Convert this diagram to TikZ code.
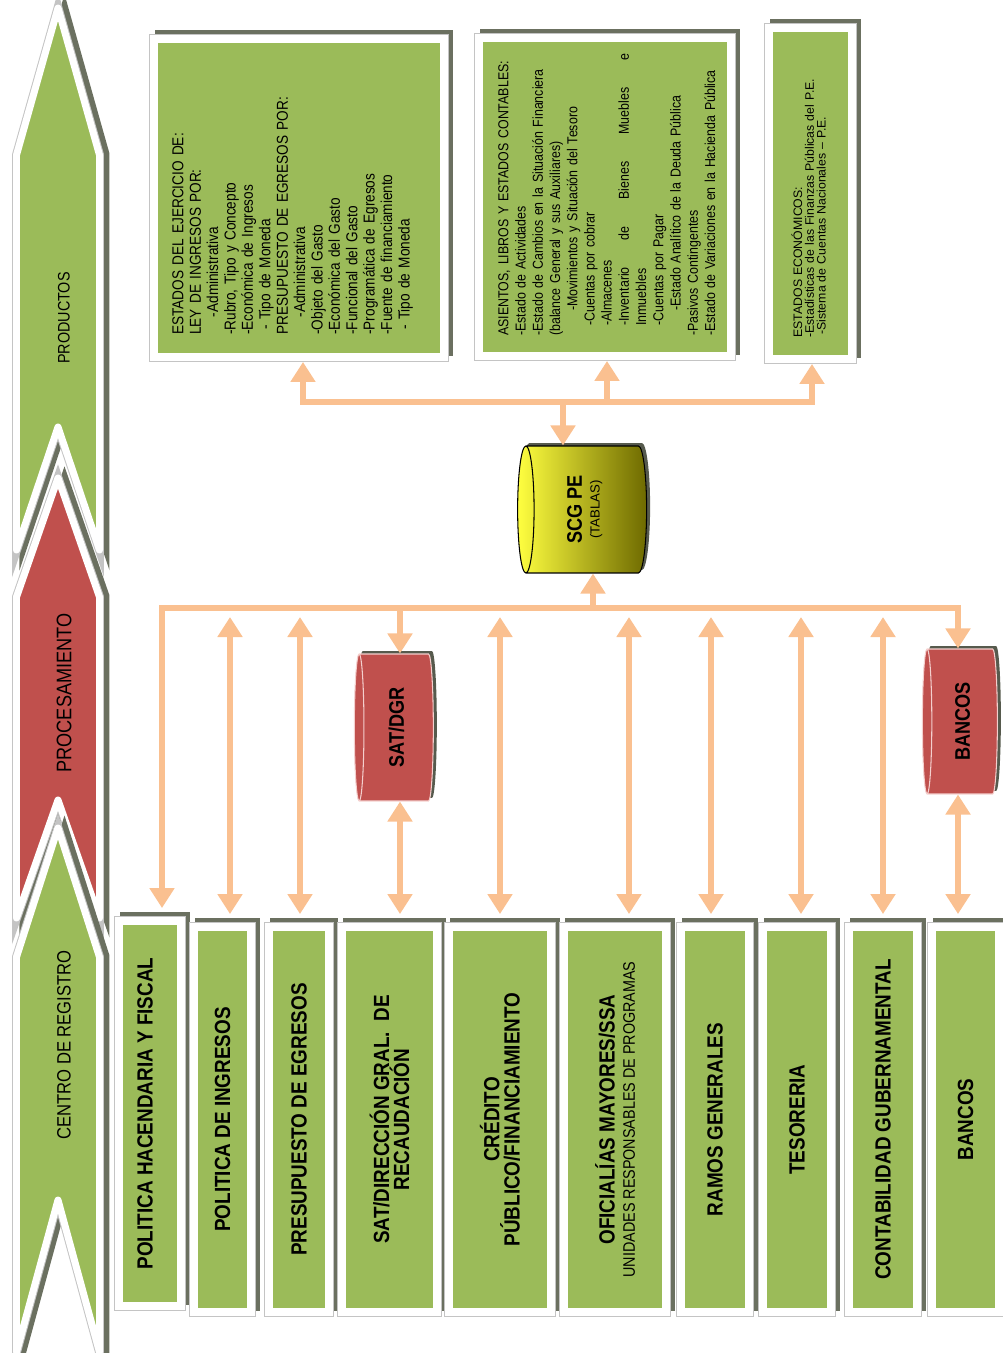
\documentclass[tikz,border=0pt]{standalone}
\usepackage{graphicx}
\usepackage{fontspec}
\setmainfont{Liberation Sans}
\newfontfamily\narrowsf[FakeStretch=0.86]{Liberation Sans}
\usepackage{tikz}
\usetikzlibrary{arrows.meta,shapes.geometric}

\definecolor{leaf}{HTML}{9BBB59}
\definecolor{brick}{HTML}{C0504D}
\definecolor{peach}{HTML}{FAC090}
\definecolor{moss}{HTML}{6B7060}
\definecolor{rim}{HTML}{C4C4C4}
\definecolor{blush}{HTML}{F4CFCD}
\definecolor{lemon}{HTML}{FFFF40}
\definecolor{olivedark}{HTML}{6E6A00}

\begin{document}
\begin{tikzpicture}[x=0.02cm, y=-0.02cm,
	>={Triangle[width=0.48cm,length=0.4cm]},
	band/.style={fill=#1, draw=white, line width=0.14cm, line join=round,
		preaction={fill=moss, draw=moss, line width=0.14cm, transform canvas={shift={(0.13cm,0.02cm)}}},
		preaction={draw=rim, line width=0.18cm}},
	bandtext/.style={rotate=90, font=\narrowsf\fontsize{#1}{#1}\selectfont},
	panel/.style={rectangle, fill=leaf, draw=white, line width=0.16cm, inner sep=0pt,
		preaction={fill=moss, draw=moss, line width=0.16cm, transform canvas={shift={(0.1cm,0.1cm)}}},
		preaction={draw=rim, line width=0.2cm}},
	cbox/.style={panel, outer sep=0.26cm, minimum height=7.7cm},
	pbox/.style={panel, outer sep=0.1cm},
	boxtext/.style={rotate=90, align=center, font=\narrowsf\bfseries\fontsize{12.5}{11.5}\selectfont},
	listtext/.style={rotate=90, anchor=north west, align=left, inner sep=0pt, font=\narrowsf\fontsize{8}{9.9}\selectfont},
	cask/.style={cylinder, shape border rotate=180, inner sep=0pt, line width=0.6pt,
		preaction={fill=moss!80!black, transform canvas={shift={(0.07cm,0.06cm)}}}},
	redcask/.style={cask, fill=brick, draw=blush, aspect=0.12,
		font=\narrowsf\bfseries\fontsize{12}{12}\selectfont},
	link/.style={draw=peach, line width=0.13cm}]
	\useasboundingbox (0,0) rectangle (1002,1353);

	% stages
	\draw[band=leaf] (58,8) -- (99.5,155) -- (99.5,550) -- (58,427) -- (16.5,550) -- (16.5,155) -- cycle;
	\node[bandtext=9.5] (prod) at (64,318) {PRODUCTOS};
	\draw[band=brick] (58,478) -- (99.5,597) -- (99.5,918) -- (58,800) -- (16.5,918) -- (16.5,597) -- cycle;
	\node[bandtext=12] (proc) at (64,693) {PROCESAMIENTO};
	\draw[band=leaf] (58,828) -- (99.5,957) -- (99.5,1352) -- (58,1200) -- (16.5,1352) -- (16.5,957) -- cycle;
	\node[bandtext=11] (reg) at (64,1045) {CENTRO DE REGISTRO};

	% products
	\node[pbox, minimum width=5.8cm, minimum height=6.36cm] (pa) at (299,198) {};
	\node[pbox, minimum width=5.04cm, minimum height=6.36cm] (pb) at (605,197) {};
	\node[pbox, minimum width=1.66cm, minimum height=6.62cm] (pc) at (810.5,193.5) {};
	\node[listtext, text width=5.5cm, font=\narrowsf\fontsize{9}{9.9}\selectfont] (ta) at (172,335) {ESTADOS DEL EJERCICIO DE:\\
		LEY DE INGRESOS POR:\\
		\hspace*{0.35cm}-Administrativa\\
		-Rubro, Tipo y Concepto\\
		-Económica de Ingresos\\
		\hspace*{0.1cm}- Tipo de Moneda\\
		PRESUPUESTO DE EGRESOS POR:\\
		\hspace*{0.35cm}-Administrativa\\
		-Objeto del Gasto\\
		-Económica del Gasto\\
		-Funcional del Gasto\\
		-Programática de Egresos\\
		-Fuente de financiamiento\\
		\hspace*{0.1cm}- Tipo de Moneda};
	\node[listtext, text width=5.7cm, font=\narrowsf\fontsize{8.2}{9.8}\selectfont] (tb) at (498,336) {ASIENTOS, LIBROS Y ESTADOS CONTABLES:\\
		-Estado de Actividades\\
		-Estado de Cambios en la Situación Financiera\\
		(balance General y sus Auxiliares)\\
		\hspace*{0.5cm}-Movimientos y Situación del Tesoro\\
		\hspace*{0.2cm}-Cuentas por cobrar\\
		\hspace*{0.2cm}-Almacenes\\
		\hspace*{0.2cm}\hbox to 5.44cm{-Inventario\hfill de\hfill Bienes\hfill Muebles\hfill e}\\
		\hspace*{0.2cm}Inmuebles\\
		\hspace*{0.2cm}-Cuentas por Pagar\\
		\hspace*{0.5cm}-Estado Analítico de la Deuda Pública\\
		-Pasivos Contingentes\\
		-Estado de Variaciones en la Hacienda Pública};
	\node[listtext, text width=6cm, font=\fontsize{7}{6.7}\selectfont] (tc) at (791,338) {ESTADOS ECONÓMICOS:\\
		-Estadísticas de las Finanzas Públicas del P.E.\\
		\hspace*{0.06cm}-Sistema de Cuentas Nacionales -- P.E.};

	% tables
	\node[cask, aspect=0.24, minimum height=2.58cm, minimum width=2.54cm, draw=black,
		left color=lemon, right color=olivedark] (scg) at (586.5,509.5)
		{\rotatebox{90}{\begin{tabular}{@{}c@{}}{\narrowsf\bfseries\fontsize{12}{12}\selectfont SCG PE}\\[-2pt]{\fontsize{7.5}{8}\selectfont (TABLAS)}\end{tabular}}};
	\node[redcask, minimum height=1.58cm, minimum width=2.94cm] (sat) at (396.5,727.5) {\rotatebox{90}{SAT/DGR}};
	\node[redcask, minimum height=1.5cm, minimum width=2.9cm] (bancos) at (962.5,721.5) {\rotatebox{90}{BANCOS}};

	% registry
	\node[cbox, minimum width=1.24cm] (p1) at (150,1113.5) {};
	\node[cbox, minimum width=1.14cm] (p2) at (222.5,1119.5) {};
	\node[cbox, minimum width=1.2cm] (p3) at (299,1119.5) {};
	\node[cbox, minimum width=1.9cm] (p4) at (389.5,1119.5) {};
	\node[cbox, minimum width=2.04cm] (p5) at (500,1119.5) {};
	\node[cbox, minimum width=2.04cm] (p6) at (615,1119.5) {};
	\node[cbox, minimum width=1.36cm] (p7) at (715,1119.5) {};
	\node[cbox, minimum width=1.36cm] (p8) at (797,1119.5) {};
	\node[cbox, minimum width=1.36cm] (p9) at (883,1119.5) {};
	\node[cbox, minimum width=1.34cm] (p10) at (965.5,1119.5) {};
	\node[boxtext] (l1) at ([xshift=-0.1cm]p1) {POLITICA HACENDARIA Y FISCAL};
	\node[boxtext] (l2) at (p2) {POLITICA DE INGRESOS};
	\node[boxtext] (l3) at (p3) {PRESUPUESTO DE EGRESOS};
	\node[boxtext] (l4) at (p4) {SAT/DIRECCIÓN GRAL.\ \ DE\\RECAUDACIÓN};
	\node[boxtext] (l5) at (p5) {CRÉDITO\\PÚBLICO/FINANCIAMIENTO};
	\node[boxtext] (l6) at (p6) {OFICIALÍAS MAYORES/SSA\\{\mdseries\fontsize{9.5}{10}\selectfont UNIDADES RESPONSABLES DE PROGRAMAS}};
	\node[boxtext] (l7) at (p7) {RAMOS GENERALES};
	\node[boxtext] (l8) at (p8) {TESORERIA};
	\node[boxtext] (l9) at (p9) {CONTABILIDAD GUBERNAMENTAL};
	\node[boxtext] (l10) at (p10) {BANCOS};

	% upper bus
	\coordinate (ua) at (303,402);
	\coordinate (ub) at (607,402);
	\coordinate (uc) at (812,402);
	\coordinate (ud) at (563,402);
	\draw[link,<->] (pa.south -| ua) -- (ua) -- (uc) -- (pc.south -| uc);
	\draw[link,->] (ub) -- (pb.south -| ub);
	\draw[link,->] (ud) -- (scg.north -| ud);

	% lower bus
	\coordinate (la) at (162,608);
	\coordinate (lz) at (958,608);
	\coordinate (lu) at (593,608);
	\coordinate (ls) at (400,608);
	\draw[link,<->] (p1.north -| la) -- (la) -- (lz) -- (bancos.north -| lz);
	\draw[link,->] (lu) -- (scg.south -| lu);
	\draw[link,->] (ls) -- (sat.north -| ls);
	\draw[link,<->] (sat.south -| ls) -- (p4.north -| ls);
	\draw[link,<->] (bancos.south -| lz) -- (p10.north -| lz);
	\foreach \x/\n in {230/2, 300/3, 500/5, 629/6, 711/7, 801/8, 883/9} {
		\coordinate (d\n) at (\x,617);
		\draw[link,<->] (d\n) -- (p\n.north -| d\n);
	}
\end{tikzpicture}
\end{document}
